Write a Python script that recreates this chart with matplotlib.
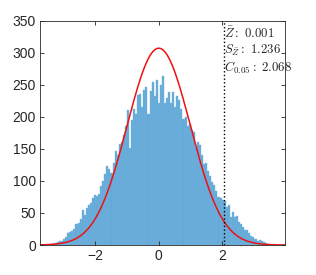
import numpy as np
import matplotlib
matplotlib.use("Agg")
import matplotlib.pyplot as plt

plt.rcParams['mathtext.fontset'] = 'cm'
plt.rcParams['font.family'] = ['Liberation Sans', 'DejaVu Sans']

# Histogram data (bin width and start)
bin_start = -3.41
bin_width = 0.065
counts = [1, 2, 3, 5, 6, 7, 9, 12, 18, 21,
          22, 25, 33, 35, 40, 54, 47, 58, 62, 65,
          74, 78, 77, 80, 92, 100, 111, 124, 118, 112,
          128, 146, 140, 157, 160, 172, 185, 211, 152, 195,
          212, 205, 234, 235, 215, 242, 247, 204, 240, 255,
          232, 258, 221, 250, 264, 222, 230, 238, 222, 238,
          216, 232, 226, 212, 196, 200, 186, 188, 180, 176,
          153, 160, 156, 140, 126, 128, 115, 108, 98, 94,
          84, 75, 73, 71, 68, 60, 62, 44, 52, 44,
          46, 36, 33, 28, 23, 24, 18, 14, 12, 10,
          6, 8, 7, 4, 3, 2]

# Fitted normal curve parameters
curve_peak = 307
curve_mu = 0.001
curve_sigma = 1.0

# Annotation values
z_mean = 0.001
s_z = 1.236
c_crit = 2.068

x_ticks = [-2, 0, 2]
y_ticks = [0, 50, 100, 150, 200, 250, 300, 350]

fig = plt.figure(figsize=(3.16, 2.75), dpi=100)
ax = fig.add_axes([0.1266, 0.109, 0.7754, 0.816])

edges = bin_start + bin_width * np.arange(len(counts) + 1)
ax.bar(edges[:-1], counts, width=bin_width, align='edge',
       color='#62a8d8', edgecolor='#7cb8e0', linewidth=0.3)

xlim = (-3.75, 3.99)
xs = np.linspace(xlim[0], xlim[1], 500)
ys = curve_peak * np.exp(-0.5 * ((xs - curve_mu) / curve_sigma) ** 2)
ax.plot(xs, ys, color='#ee1111', linewidth=1.1)

ax.plot([c_crit, c_crit], [0, 350], color='black', linestyle=':', linewidth=1.0)

ax.set_xlim(*xlim)
ax.set_ylim(0, 350)
ax.set_xticks(x_ticks)
ax.set_yticks(y_ticks)
ax.tick_params(direction='in', top=True, right=True, length=3, width=0.6,
               labelsize=10, colors='#262626', pad=3)
for s in ax.spines.values():
    s.set_linewidth(0.6)
    s.set_color('#262626')

txt = (r'$\bar{Z}\mathrm{:}\ %.3f$' % z_mean + '\n'
       + r'$S_{\bar{Z}}\mathrm{:}\ %.3f$' % s_z + '\n'
       + r'$C_{0.05}\mathrm{:}\ %.3f$' % c_crit)
ax.text(c_crit + 0.0, 342, txt, fontsize=9.2, va='top', ha='left',
        color='#262626', linespacing=1.15)

fig.savefig('out.png', dpi=100)
